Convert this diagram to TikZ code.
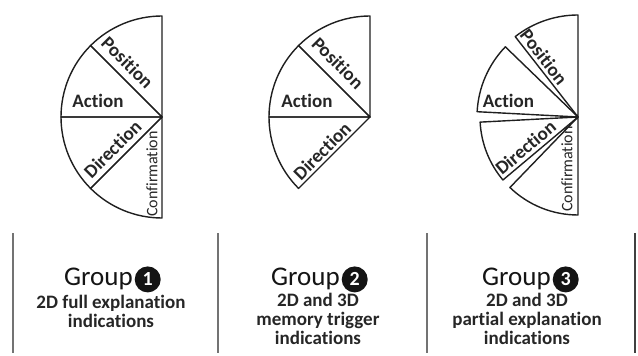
\documentclass[tikz,border=0pt]{standalone}
\usepackage{fontspec}
\setmainfont{Carlito}[Ligatures=NoCommon]
\usetikzlibrary{positioning}

\tikzset{
	sector/.style={line width=1.4pt, draw=black!88, line join=round},
	slabel/.style={font=\fontsize{19}{19}\selectfont\bfseries, text=black!85, inner sep=0pt},
	clabel/.style={font=\fontsize{16}{16}\selectfont, text=black!85, inner sep=0pt},
	grouptitle/.style={font=\fontsize{27}{27}\selectfont, text=black!92, inner sep=0pt},
	numdot/.style={circle, fill=black!92, text=white, inner sep=0pt, minimum size=26pt, font=\fontsize{20}{20}\selectfont\bfseries},
	subtitle/.style={font=\fontsize{19}{19}\selectfont\bfseries, text=black!85, align=center, inner sep=0pt},
	divider/.style={line width=1.2pt, draw=black!55},
}

\begin{document}
\begin{tikzpicture}[x=1pt,y=1pt]
	\useasboundingbox (0,0) rectangle (638,356);
	
	% group 1: full fan
	\coordinate (c1) at (162,239);
	\draw[sector] (c1) -- ++(90:101pt) arc (90:135:101pt) -- cycle;
	\draw[sector] (c1) -- ++(135:101pt) arc (135:180:101pt) -- cycle;
	\draw[sector] (c1) -- ++(180:101pt) arc (180:225:101pt) -- cycle;
	\draw[sector] (c1) -- ++(225:101pt) arc (225:270:101pt) -- cycle;
	
	\node[slabel, rotate=-45] (pos1) at ([shift={(-34.5,54.5)}]c1) {Position};
	\node[slabel] (act1) at ([shift={(-64,16)}]c1) {Action};
	\node[slabel, rotate=45] (dir1) at ([shift={(-49.5,-32)}]c1) {Direction};
	\node[clabel, rotate=90] (conf1) at ([shift={(-10,-57)}]c1) {Confirmation};
	
	% group 2: no confirmation
	\coordinate (c2) at (370,239);
	\draw[sector] (c2) -- ++(90:101pt) arc (90:135:101pt) -- cycle;
	\draw[sector] (c2) -- ++(135:101pt) arc (135:180:101pt) -- cycle;
	\draw[sector] (c2) -- ++(180:101pt) arc (180:225:101pt) -- cycle;
	
	\node[slabel, rotate=-45] (pos2) at ([shift={(-32,54)}]c2) {Position};
	\node[slabel] (act2) at ([shift={(-63,16)}]c2) {Action};
	\node[slabel, rotate=45] (dir2) at ([shift={(-48,-34)}]c2) {Direction};
	
	% group 3: split fan
	\coordinate (c3) at (578,239);
	\draw[sector] (c3) -- ++(90:102pt) arc (90:128:102pt) -- cycle;
	\draw[sector] (c3) -- ++(136:101pt) arc (136:177:101pt) -- cycle;
	\draw[sector] (c3) -- ++(183:98pt) arc (183:220:98pt) -- cycle;
	\draw[sector] (c3) -- ++(226:98pt) arc (226:270:98pt) -- cycle;
	
	\node[slabel, rotate=-52] (pos3) at ([shift={(-34,60)}]c3) {Position};
	\node[slabel] (act3) at ([shift={(-69.5,16)}]c3) {Action};
	\node[slabel, rotate=40] (dir3) at ([shift={(-52.5,-30.5)}]c3) {Direction};
	\node[clabel, rotate=90] (conf3) at ([shift={(-11,-52)}]c3) {Confirmation};
	
	% separators
	\draw[divider] (13,3) -- (13,123);
	\draw[divider] (218,3) -- (218,123);
	\draw[divider] (427,3) -- (427,123);
	\draw[divider, line width=2.6pt, draw=black!75] (635,3) -- (635,123);
	
	% captions (base = last line)
	\node[grouptitle, anchor=base west] (g1) at (64,70) {Group};
	\node[numdot, right=1.5pt of g1] (n1) {1};
	\node[subtitle, anchor=base] (t1) at (111,28) {2D full explanation\\indications};
	
	\node[grouptitle, anchor=base west] (g2) at (271,70) {Group};
	\node[numdot, right=1.5pt of g2] (n2) {2};
	\node[subtitle, anchor=base] (t2) at (318,11) {2D and 3D\\memory trigger\\indications};
	
	\node[grouptitle, anchor=base west] (g3) at (482,70) {Group};
	\node[numdot, right=1.5pt of g3] (n3) {3};
	\node[subtitle, anchor=base] (t3) at (527,11) {2D and 3D\\partial explanation\\indications};
\end{tikzpicture}
\end{document}
